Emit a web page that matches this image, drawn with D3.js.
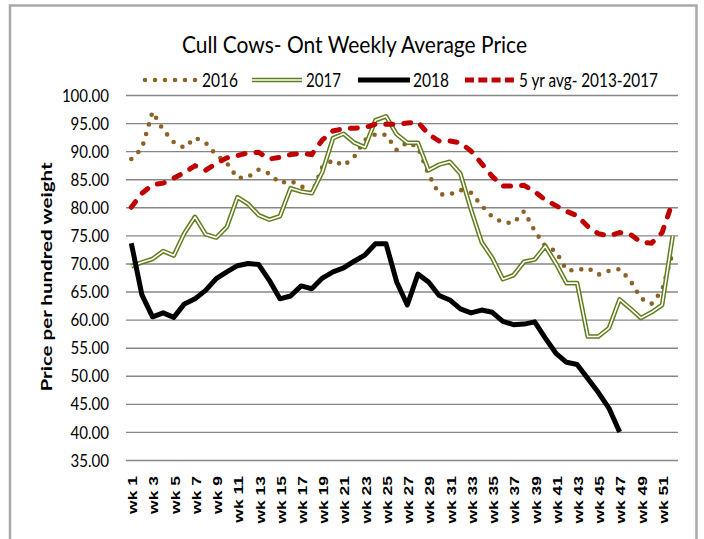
<!DOCTYPE html>
<html>
<head>
<meta charset="utf-8">
<script src="https://cdn.jsdelivr.net/npm/d3@7"></script>
<style>
  html, body { margin: 0; padding: 0; background: #fff; }
  svg { display: block; }
</style>
</head>
<body>
<svg id="chart" width="704" height="539"></svg>
<script>
// ---------- data ----------
const weeks = d3.range(1, 53).map(i => "wk " + i);
const weekTickLabels = weeks.filter((d, i) => i % 2 === 0);
const yTicks = [35, 40, 45, 50, 55, 60, 65, 70, 75, 80, 85, 90, 95, 100];

const seriesNames = ["2016", "2017", "2018", "5 yr avg- 2013-2017"];

const y2016 = [88.6, 90.5, 97.0, 93.8, 91.6, 90.6, 92.4, 91.5, 89.3, 87.9,
  85.2, 85.4, 86.7, 86.0, 84.3, 84.7, 83.8, 82.4, 87.2, 88.4,
  87.4, 89.0, 92.0, 93.0, 92.9, 90.2, 91.6, 90.7, 85.9, 82.3,
  82.3, 83.1, 82.6, 80.3, 78.3, 77.3, 77.2, 79.3, 75.8, 73.1,
  72.2, 68.8, 68.8, 69.2, 68.0, 68.7, 69.0, 67.0, 63.8, 62.8,
  65.2, 72.0];

const y2017 = [69.5, 70.2, 70.8, 72.2, 71.4, 75.4, 78.3, 75.2, 74.6, 76.5,
  81.8, 80.6, 78.6, 77.8, 78.4, 83.4, 82.8, 82.5, 86.3, 92.3,
  93.1, 91.5, 90.7, 95.5, 96.2, 93.0, 91.5, 91.5, 86.6, 87.6,
  88.1, 86.0, 79.6, 73.8, 71.0, 67.2, 67.9, 70.3, 70.7, 73.1,
  70.0, 66.5, 66.5, 57.0, 57.0, 58.5, 63.6, 62.0, 60.3, 61.3,
  62.6, 74.9];

const y2018 = [73.6, 64.4, 60.5, 61.2, 60.4, 62.8, 63.7, 65.2, 67.3, 68.5,
  69.6, 70.0, 69.8, 67.0, 63.7, 64.2, 66.0, 65.5, 67.4, 68.5,
  69.2, 70.4, 71.5, 73.5, 73.5, 66.7, 62.6, 68.1, 66.7, 64.3,
  63.5, 61.9, 61.2, 61.7, 61.3, 59.7, 59.1, 59.2, 59.6, 56.7,
  54.0, 52.4, 52.0, 49.5, 47.0, 44.2, 40.0];

const yAvg = [80.0, 82.5, 84.0, 84.3, 85.2, 86.2, 87.4, 86.6, 87.8, 88.8,
  89.2, 89.7, 89.8, 88.6, 88.9, 89.4, 89.6, 89.4, 92.0, 93.6,
  94.0, 94.1, 94.2, 94.8, 94.8, 94.8, 95.0, 95.2, 93.0, 91.8,
  91.8, 91.5, 90.0, 87.8, 85.5, 83.8, 83.8, 83.9, 82.8, 81.3,
  80.3, 79.3, 78.5, 76.6, 75.3, 74.9, 75.5, 75.2, 73.8, 73.6,
  75.5, 81.0];

// ---------- layout ----------
const svg = d3.select("#chart");
const plot = { left: 126, right: 678, top: 95, bottom: 460 };
const FONT = "Lato, 'Open Sans', sans-serif";

svg.append("rect")
  .attr("x", 10).attr("y", 5.5).attr("width", 686.5).attr("height", 600)
  .attr("fill", "#fff").attr("stroke", "#a9a9a9").attr("stroke-width", 2.5);

const x = d3.scalePoint().domain(weeks).range([plot.left, plot.right]).padding(0.5);
const y = d3.scaleLinear().domain([35, 100]).range([plot.bottom, plot.top]);

// gridlines + y tick labels
const yAxis = svg.append("g")
  .attr("transform", `translate(${plot.left},0)`)
  .call(d3.axisLeft(y).tickValues(yTicks).tickSize(-(plot.right - plot.left))
    .tickPadding(17).tickFormat(d3.format(".2f")));
yAxis.select(".domain").remove();
yAxis.selectAll(".tick line").attr("stroke", "#878787").attr("stroke-width", 1.4);
yAxis.selectAll(".tick text")
  .attr("font-family", FONT).attr("font-size", 17).attr("fill", "#000")
  .attr("dy", "0.36em")
  .attr("lengthAdjust", "spacingAndGlyphs")
  .attr("textLength", function(d) {
    const s = d3.format(".2f")(d);
    return (s.length - 1) * 8.57 + 4.26;
  });

// x axis labels
const xAxis = svg.append("g")
  .attr("transform", `translate(0,${plot.bottom})`)
  .call(d3.axisBottom(x).tickValues(weekTickLabels).tickSize(0).tickPadding(0));
xAxis.select(".domain").remove();
xAxis.selectAll(".tick text")
  .attr("font-family", "'Liberation Sans', Arial, sans-serif")
  .attr("font-weight", "bold").attr("font-size", 12.5).attr("fill", "#000")
  .attr("text-anchor", "end")
  .attr("x", 0).attr("y", 0).attr("dy", "0.35em")
  .attr("transform", "translate(1,16) rotate(-90) scale(1.4,1)");

// y axis title
svg.append("text")
  .attr("transform", "translate(52,277) rotate(-90)")
  .attr("text-anchor", "middle")
  .attr("font-family", FONT).attr("font-weight", "bold").attr("font-size", 16)
  .attr("lengthAdjust", "spacingAndGlyphs").attr("textLength", 229)
  .text("Price per hundred weight");

// title
svg.append("text")
  .attr("x", 182).attr("y", 53)
  .attr("font-family", FONT).attr("font-size", 24)
  .attr("lengthAdjust", "spacingAndGlyphs").attr("textLength", 345)
  .text("Cull Cows- Ont Weekly Average Price");

// ---------- series ----------
const line = d3.line()
  .defined(d => d != null)
  .x((d, i) => x(weeks[i]))
  .y(d => y(d));

const C16 = "#8c6227", C17 = "#5f7d1c", C18 = "#000", CAVG = "#c00000";

svg.append("path").datum(y2016).attr("d", line)
  .attr("fill", "none").attr("stroke", C16).attr("stroke-width", 4.6)
  .attr("stroke-linecap", "round").attr("stroke-dasharray", "0 10");

svg.append("path").datum(y2017).attr("d", line)
  .attr("fill", "none").attr("stroke", C17).attr("stroke-width", 4.6)
  .attr("stroke-linejoin", "round");
svg.append("path").datum(y2017).attr("d", line)
  .attr("fill", "none").attr("stroke", "#fff").attr("stroke-width", 1.6)
  .attr("stroke-linejoin", "round");

svg.append("path").datum(y2018).attr("d", line)
  .attr("fill", "none").attr("stroke", C18).attr("stroke-width", 5)
  .attr("stroke-linejoin", "round");

svg.append("path").datum(yAvg).attr("d", line)
  .attr("fill", "none").attr("stroke", CAVG).attr("stroke-width", 5)
  .attr("stroke-linecap", "round").attr("stroke-dasharray", "7 11");

// ---------- legend ----------
const legY = 80;
const lg = svg.append("g");
// 2016
lg.append("line").attr("x1", 145).attr("x2", 196).attr("y1", legY).attr("y2", legY)
  .attr("stroke", C16).attr("stroke-width", 4.6).attr("stroke-linecap", "round")
  .attr("stroke-dasharray", "0 10");
// 2017
lg.append("line").attr("x1", 252).attr("x2", 302).attr("y1", legY).attr("y2", legY)
  .attr("stroke", C17).attr("stroke-width", 4.6);
lg.append("line").attr("x1", 252).attr("x2", 302).attr("y1", legY).attr("y2", legY)
  .attr("stroke", "#fff").attr("stroke-width", 1.6);
// 2018
lg.append("line").attr("x1", 358).attr("x2", 410).attr("y1", legY).attr("y2", legY)
  .attr("stroke", C18).attr("stroke-width", 5);
// avg
lg.append("line").attr("x1", 465).attr("x2", 514).attr("y1", legY).attr("y2", legY)
  .attr("stroke", CAVG).attr("stroke-width", 5).attr("stroke-dasharray", "9 4.3");

const legText = [
  { t: seriesNames[0], x: 202, w: 36 },
  { t: seriesNames[1], x: 306, w: 35 },
  { t: seriesNames[2], x: 413, w: 36 },
  { t: seriesNames[3], x: 519, w: 139 }
];
lg.selectAll("text.leg").data(legText).enter().append("text")
  .attr("class", "leg")
  .attr("x", d => d.x).attr("y", 87)
  .attr("font-family", FONT).attr("font-size", 19.5)
  .attr("lengthAdjust", "spacingAndGlyphs").attr("textLength", d => d.w)
  .text(d => d.t);
</script>
</body>
</html>
